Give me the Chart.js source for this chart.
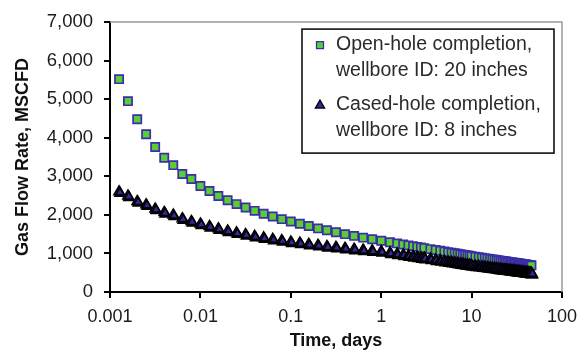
<!DOCTYPE html>
<html>
<head>
<meta charset="utf-8">
<script src="https://cdn.jsdelivr.net/npm/chart.js@4.4.1/dist/chart.umd.min.js"></script>
<style>
  html, body { margin: 0; padding: 0; background: #fff; }
  #wrap { width: 585px; height: 355px; position: relative; }
</style>
</head>
<body>
<div id="wrap"><canvas id="debit"></canvas></div>
<script>
// temps (jours) - pas log au début puis pas constants
const timeDays = [
  0.00126, 0.00158, 0.002, 0.00251, 0.00316, 0.00398, 0.00501, 0.00631, 0.00794, 0.01,
  0.0126, 0.0158, 0.02, 0.0251, 0.0316, 0.0398, 0.0501, 0.0631, 0.0794, 0.1,
  0.126, 0.158, 0.2, 0.251, 0.316, 0.398, 0.501, 0.631, 0.794, 1,
  1.25, 1.5, 1.75, 2, 2.25, 2.5, 2.75, 3, 3.5, 4, 4.5, 5, 5.5, 6, 6.5, 7, 7.5, 8, 8.5, 9, 9.5, 10,
  11, 12, 13, 14, 15, 16, 17, 18, 19, 20, 21, 22, 23, 24, 25, 26, 27, 28, 29, 30,
  31, 32, 33, 34, 35, 36, 37, 38, 39, 40, 41, 42, 43, 44, 45, 46
];

// débit open-hole, ID 20 pouces (MSCFD)
const openHole = [
  5520, 4950, 4480, 4090, 3760, 3480, 3290, 3060, 2930, 2750,
  2620, 2490, 2380, 2280, 2190, 2105, 2030, 1960, 1890, 1830,
  1770, 1710, 1650, 1600, 1550, 1500, 1455, 1410, 1370, 1330,
  1292, 1260, 1233, 1210, 1190, 1171, 1154, 1139, 1112, 1089, 1068, 1050, 1034, 1019, 1005, 992, 980, 969, 958, 948, 939, 930,
  915, 901, 889, 877, 866, 856, 847, 838, 829, 821, 813, 806, 799, 792, 786, 780, 774, 768, 763, 757,
  752, 747, 742, 738, 733, 729, 724, 720, 716, 712, 708, 704, 701, 697, 694, 690
];

// débit cased-hole, ID 8 pouces (MSCFD)
const casedHole = [
  2600, 2490, 2350, 2260, 2150, 2065, 1995, 1900, 1830, 1765,
  1700, 1640, 1585, 1535, 1490, 1445, 1405, 1368, 1333, 1300,
  1268, 1238, 1210, 1183, 1158, 1134, 1111, 1089, 1068, 1048,
  1013, 985, 961, 940, 922, 905, 891, 877, 853, 832, 814, 798, 783, 769, 757, 745, 735, 725, 715, 706, 698, 690,
  677, 666, 655, 646, 637, 628, 620, 613, 605, 599, 592, 586, 580, 575, 569, 564, 559, 555, 550, 545,
  541, 537, 533, 529, 525, 522, 518, 514, 511, 508, 504, 501, 498, 495, 492, 489
];

const timeTicks = [0.001, 0.01, 0.1, 1, 10, 100];
const seriesLabels = [
  ['Open-hole completion,', 'wellbore ID: 20 inches'],
  ['Cased-hole completion,', 'wellbore ID: 8 inches']
];

const FONT = 'Arial, "Liberation Sans", sans-serif';
const GREEN = '#5ccb38';
const SQ_EDGE = '#3b2ea6';
const TRI_FILL = '#35279a';

function toPoints(ys) {
  return timeDays.map((t, i) => ({ x: t, y: ys[i] }));
}

// bord gris haut/droite de la zone de tracé
const plotFrame = {
  id: 'plotFrame',
  beforeDatasetsDraw(chart) {
    const { ctx, chartArea: a } = chart;
    ctx.save();
    ctx.strokeStyle = '#9a9a9a';
    ctx.lineWidth = 1.5;
    ctx.beginPath();
    ctx.moveTo(a.left, a.top);
    ctx.lineTo(a.right, a.top);
    ctx.lineTo(a.right, a.bottom);
    ctx.stroke();
    ctx.restore();
  }
};

// ombre portée noire sous les triangles
const triShadow = {
  id: 'triShadow',
  beforeDatasetDraw(chart, args) {
    if (args.index !== 1) return;
    const ctx = chart.ctx;
    ctx.save();
    ctx.shadowColor = '#000';
    ctx.shadowOffsetX = 1;
    ctx.shadowOffsetY = 1.5;
    ctx.shadowBlur = 0;
  },
  afterDatasetDraw(chart, args) {
    if (args.index !== 1) return;
    chart.ctx.restore();
  }
};

// légende encadrée sur deux lignes par série
const boxLegend = {
  id: 'boxLegend',
  afterDraw(chart) {
    const { ctx, chartArea: a } = chart;
    const right = a.right - 8, top = a.top + 7;
    const w = 252, h = 124;
    const left = right - w;
    ctx.save();
    ctx.fillStyle = '#fff';
    ctx.fillRect(left, top, w, h);
    ctx.strokeStyle = '#111';
    ctx.lineWidth = 1.6;
    ctx.strokeRect(left, top, w, h);

    ctx.font = '19.5px ' + FONT;
    ctx.textBaseline = 'middle';
    const rows = [top + 16, top + 76];
    seriesLabels.forEach((lines, i) => {
      const ds = chart.data.datasets[i];
      const mx = left + 18, my = rows[i];
      ctx.fillStyle = ds.backgroundColor;
      ctx.strokeStyle = ds.borderColor;
      ctx.lineWidth = 1.3;
      ctx.beginPath();
      if (ds.pointStyle === 'rect') {
        ctx.rect(mx - 3.5, my - 3.5, 7, 7);
      } else {
        ctx.moveTo(mx, my - 5);
        ctx.lineTo(mx + 4.6, my + 3);
        ctx.lineTo(mx - 4.6, my + 3);
        ctx.closePath();
      }
      ctx.fill();
      ctx.stroke();
      ctx.fillStyle = '#2a2a2a';
      lines.forEach((txt, j) => ctx.fillText(txt, left + 34, my + j * 26));
    });
    ctx.restore();
  }
};

new Chart(document.getElementById('debit').getContext('2d'), {
  type: 'scatter',
  data: {
    datasets: [
      {
        label: seriesLabels[0].join(' '),
        data: toPoints(openHole),
        pointStyle: 'rect',
        pointRadius: 5.8,
        backgroundColor: GREEN,
        borderColor: SQ_EDGE,
        borderWidth: 1.7,
        order: 1
      },
      {
        label: seriesLabels[1].join(' '),
        data: toPoints(casedHole),
        pointStyle: 'triangle',
        pointRadius: 6,
        backgroundColor: TRI_FILL,
        borderColor: '#000',
        borderWidth: 1.5,
        order: 0
      }
    ]
  },
  options: {
    responsive: true,
    maintainAspectRatio: false,
    animation: false,
    events: [],
    layout: { padding: { top: 20, right: 22, left: 0, bottom: 0 } },
    plugins: {
      legend: { display: false },
      tooltip: { enabled: false }
    },
    scales: {
      x: {
        type: 'logarithmic',
        min: 0.001,
        max: 100,
        afterBuildTicks: (scale) => { scale.ticks = timeTicks.map(v => ({ value: v })); },
        afterFit: (scale) => { scale.height = 63; },
        border: { color: '#000', width: 2 },
        grid: { drawOnChartArea: false, drawTicks: true, tickLength: 6, color: '#000', lineWidth: 2 },
        ticks: {
          color: '#1a1a1a',
          font: { family: FONT, size: 18 },
          padding: 8,
          maxRotation: 0,
          autoSkip: false,
          callback: (v) => String(v)
        },
        title: {
          display: true,
          text: 'Time, days',
          color: '#111',
          font: { family: FONT, size: 18, weight: 'bold' },
          padding: { top: 0, bottom: 3 }
        }
      },
      y: {
        min: 0,
        max: 7000,
        afterFit: (scale) => { scale.width = 110; },
        border: { color: '#000', width: 2 },
        grid: { drawOnChartArea: false, drawTicks: true, tickLength: 6, color: '#000', lineWidth: 2 },
        ticks: {
          stepSize: 1000,
          color: '#1a1a1a',
          font: { family: FONT, size: 18.5 },
          padding: 11,
          callback: (v) => v.toLocaleString('en-US')
        },
        title: {
          display: true,
          text: 'Gas Flow Rate, MSCFD',
          color: '#111',
          font: { family: FONT, size: 18, weight: 'bold' },
          padding: { top: 12, bottom: 0 }
        }
      }
    }
  },
  plugins: [plotFrame, triShadow, boxLegend]
});
</script>
</body>
</html>
